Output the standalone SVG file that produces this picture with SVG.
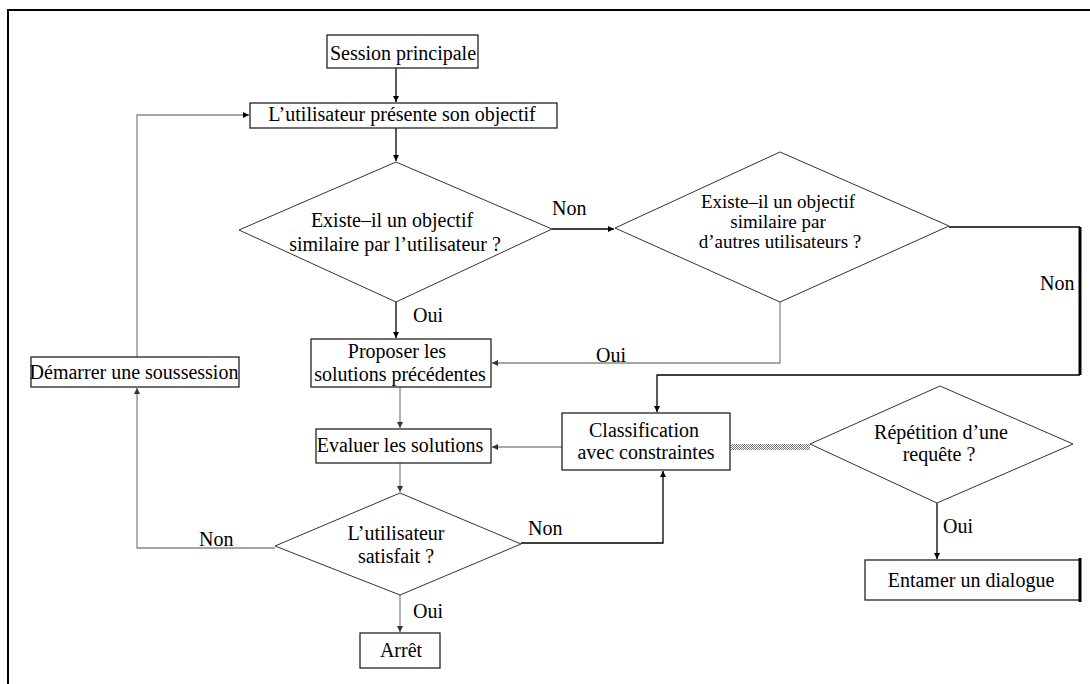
<svg xmlns="http://www.w3.org/2000/svg" width="1090" height="684" viewBox="0 0 1090 684">
<defs>
<style>
.box{fill:#fff;stroke:#222;stroke-width:1.3}
.dia{fill:#fff;stroke:#333;stroke-width:1}
.t{font-family:"Liberation Serif","Times New Roman",serif;font-size:20px;fill:#000;text-anchor:middle}
.s{font-size:19px}
.l{font-family:"Liberation Serif","Times New Roman",serif;font-size:20px;fill:#000}
.k{fill:none;stroke:#000;stroke-width:1.3}
.g{fill:none;stroke:#888;stroke-width:1.3}
</style>
<marker id="ak" viewBox="0 0 8 8" refX="8" refY="4" markerWidth="6" markerHeight="6" markerUnits="userSpaceOnUse" orient="auto"><path d="M0,0L8,4L0,8z" fill="#000"/></marker>
<marker id="ag" viewBox="0 0 8 8" refX="8" refY="4" markerWidth="6" markerHeight="6" markerUnits="userSpaceOnUse" orient="auto"><path d="M0,0L8,4L0,8z" fill="#333"/></marker>
<pattern id="stip" width="2" height="2" patternUnits="userSpaceOnUse"><rect width="2" height="2" fill="#fff"/><rect width="1" height="1" fill="#777"/><rect x="1" y="1" width="1" height="1" fill="#777"/></pattern>
</defs>
<rect width="1090" height="684" fill="#fff"/>
<path d="M8,690V10H1092" fill="none" stroke="#000" stroke-width="2"/>

<g id="connectors">
<path class="k" d="M396,68V102" marker-end="url(#ak)"/>
<path class="k" d="M396,128V161" marker-end="url(#ak)"/>
<path class="k" d="M396,302V338" marker-end="url(#ak)"/>
<path class="k" d="M552,229H614" marker-end="url(#ak)"/>
<path class="g" d="M780,302V363H492" marker-end="url(#ag)"/>
<path class="k" d="M949,227H1080"/>
<path d="M1080,227V375" fill="none" stroke="#000" stroke-width="3"/>
<path class="k" d="M1080,375H657V412" marker-end="url(#ak)"/>
<path class="g" d="M400,387V428" marker-end="url(#ag)"/>
<path class="g" d="M400,463V492" marker-end="url(#ag)"/>
<path class="g" d="M562,447H492" marker-end="url(#ag)"/>
<path class="g" d="M275,548H137V388" marker-end="url(#ag)"/>
<path class="g" d="M137,357V115H249" marker-end="url(#ak)"/>
<path class="k" d="M521,543H663V471" marker-end="url(#ak)"/>
<path class="g" d="M400,595V632" marker-end="url(#ag)"/>
<path class="k" d="M937,503V559" marker-end="url(#ak)"/>
<rect x="731" y="444" width="79" height="6" fill="url(#stip)"/>
<text class="l" x="552" y="215">Non</text>
<text class="l" x="1040" y="290">Non</text>
<text class="l" x="596" y="362">Oui</text>
<text class="l" x="413" y="322">Oui</text>
<text class="l" x="199" y="546">Non</text>
<text class="l" x="528" y="535">Non</text>
<text class="l" x="413" y="618">Oui</text>
<text class="l" x="943" y="533">Oui</text>
</g>

<g id="session">
<rect class="box" x="327" y="35" width="151" height="33"/>
<text class="t" x="403" y="60">Session principale</text>
</g>
<g id="presente">
<rect class="box" x="250" y="103" width="307" height="25"/>
<text class="t" x="402" y="121">L’utilisateur présente son objectif</text>
</g>
<g id="q-utilisateur">
<polygon class="dia" points="239,230 396,162 552,229 396,302"/>
<text class="t" x="392" y="227">Existe–il un objectif</text>
<text class="t" x="395" y="251">similaire par l’utilisateur ?</text>
</g>
<g id="q-autres">
<polygon class="dia" points="615,228 780,152 949,226 780,302"/>
<text class="t s" x="778" y="208">Existe–il un objectif</text>
<text class="t s" x="778" y="228">similaire par</text>
<text class="t s" x="780" y="248">d’autres utilisateurs ?</text>
</g>
<g id="proposer">
<rect class="box" x="311" y="339" width="180" height="48"/>
<text class="t" x="397" y="358">Proposer les</text>
<text class="t" x="400" y="381">solutions précédentes</text>
</g>
<g id="demarrer">
<rect class="box" x="31" y="357" width="208" height="30"/>
<text class="t" x="134" y="379">Démarrer une soussession</text>
</g>
<g id="evaluer">
<rect class="box" x="316" y="429" width="175" height="34"/>
<text class="t" x="400" y="452">Evaluer les solutions</text>
</g>
<g id="satisfait">
<polygon class="dia" points="275,546 400,493 521,544 400,595"/>
<text class="t" x="396" y="540">L’utilisateur</text>
<text class="t" x="396" y="563">satisfait ?</text>
</g>
<g id="arret">
<rect class="box" x="360" y="633" width="80" height="35"/>
<text class="t" x="401" y="657">Arrêt</text>
</g>
<g id="classification">
<rect class="box" x="562" y="413" width="168" height="57"/>
<text class="t" x="644" y="437">Classification</text>
<text class="t" x="646" y="459">avec constraintes</text>
</g>
<g id="repetition">
<polygon class="dia" points="810,444 940,386 1073,444 937,503"/>
<text class="t" x="941" y="439">Répétition d’une</text>
<text class="t" x="939" y="461">requête ?</text>
</g>
<g id="entamer">
<rect class="box" x="865" y="560" width="215" height="40"/>
<path d="M1080,558V602" stroke="#000" stroke-width="3"/>
<text class="t" x="971" y="587">Entamer un dialogue</text>
</g>
</svg>
